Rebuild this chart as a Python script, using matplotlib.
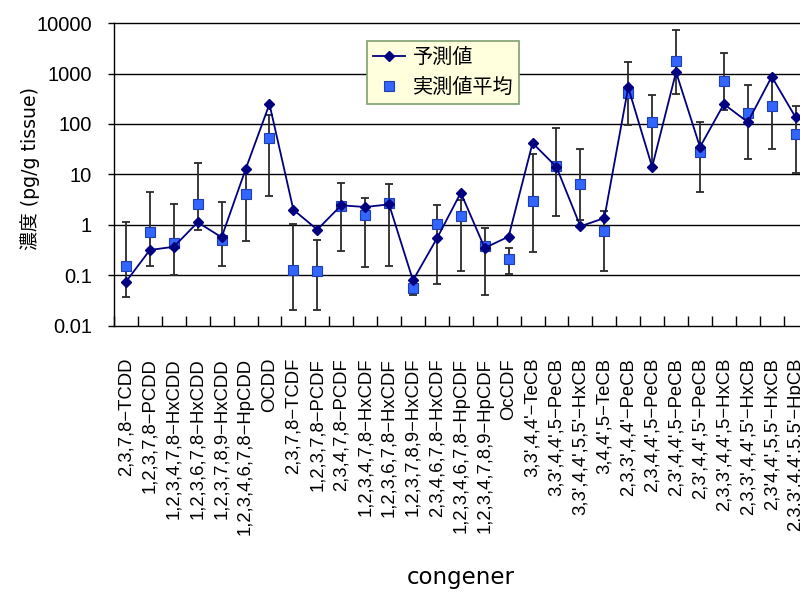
import matplotlib
matplotlib.use("Agg")
import matplotlib.pyplot as plt
import numpy as np

congeners = [
    "2,3,7,8−TCDD", "1,2,3,7,8−PCDD", "1,2,3,4,7,8−HxCDD", "1,2,3,6,7,8−HxCDD",
    "1,2,3,7,8,9−HxCDD", "1,2,3,4,6,7,8−HpCDD", "OCDD",
    "2,3,7,8−TCDF", "1,2,3,7,8−PCDF", "2,3,4,7,8−PCDF", "1,2,3,4,7,8−HxCDF",
    "1,2,3,6,7,8−HxCDF", "1,2,3,7,8,9−HxCDF", "2,3,4,6,7,8−HxCDF",
    "1,2,3,4,6,7,8−HpCDF", "1,2,3,4,7,8,9−HpCDF", "OcCDF",
    "3,3',4,4'−TeCB", "3,3',4,4',5−PeCB", "3,3',4,4',5,5'−HxCB", "3,4,4',5−TeCB",
    "2,3,3',4,4'−PeCB", "2,3,4,4',5−PeCB", "2,3',4,4',5−PeCB", "2,3',4,4',5'−PeCB",
    "2,3,3',4,4',5−HxCB", "2,3,3',4,4',5'−HxCB", "2,3'4,4',5,5'−HxCB",
    "2,3,3',4,4',5,5'−HpCB",
]

predicted = [0.075, 0.32, 0.37, 1.13, 0.57, 12.6, 248,
             2.0, 0.81, 2.45, 2.27, 2.56, 0.080, 0.54,
             4.36, 0.35, 0.59,
             42, 14.1, 0.94, 1.37,
             531, 14.1, 1070, 35,
             248, 109, 865, 135]

measured_mean = [0.156, 0.71, 0.43, 2.6, 0.50, 4.17, 53.5,
                 0.126, 0.121, 2.4, 1.57, 2.76, 0.0565, 1.06,
                 1.51, 0.39, 0.215,
                 3.03, 14.7, 6.5, 0.75,
                 410, 112, 1766, 27.9,
                 710, 165, 230, 63]

measured_low = [0.0375, 0.152, 0.104, 0.81, 0.152, 0.475, 3.69,
                0.0204, 0.0204, 0.305, 0.145, 0.152, 0.042, 0.068,
                0.121, 0.0417, 0.105,
                0.292, 1.53, 1.24, 0.121,
                94, 14, 392, 4.43,
                192, 20.6, 32, 10.9]

measured_high = [1.13, 4.43, 2.56, 16.6, 2.85, 12.0, 153,
                 1.06, 0.51, 6.8, 3.47, 6.5, 0.078, 2.52,
                 3.17, 0.86, 0.355,
                 25.8, 84.5, 32, 1.89,
                 1715, 380, 7140, 108,
                 2540, 582, 860, 224]

y_ticks = [0.01, 0.1, 1, 10, 100, 1000, 10000]
y_tick_labels = ["0.01", "0.1", "1", "10", "100", "1000", "10000"]

x = np.arange(len(congeners))
mean = np.array(measured_mean)
yerr = np.vstack([mean - np.array(measured_low), np.array(measured_high) - mean])

fig = plt.figure(figsize=(8.0, 5.93), dpi=100)
ax = fig.add_axes([0.1425, 0.4503, 0.867, 0.5109])

ax.set_yscale("log")
ax.set_ylim(0.01, 10000)
ax.set_xlim(-0.5, len(congeners) - 0.5)

for v in [0.1, 1, 10, 100, 1000]:
    ax.axhline(v, color="black", lw=1.0, zorder=1)

ax.errorbar(x, mean, yerr=yerr, fmt="none", ecolor="#2a2a2a", elinewidth=1.3,
            capsize=3.2, capthick=1.3, zorder=2)
ax.plot(x, predicted, color="#000080", lw=1.3, marker="D", markersize=5.2,
        markerfacecolor="#000080", markeredgecolor="#000080", zorder=4,
        label="予測値")
ax.plot(x, measured_mean, linestyle="none", marker="s", markersize=6.6,
        markerfacecolor="#3366FF", markeredgecolor="#1F3FAF", markeredgewidth=0.8,
        zorder=3, label="実測値平均")

ax.set_yticks(y_ticks)
ax.set_yticklabels(y_tick_labels, family=["Liberation Sans"], fontsize=14.5)
ax.yaxis.set_minor_locator(matplotlib.ticker.NullLocator())
ax.tick_params(axis="y", direction="out", length=4, width=1, pad=12)

ax.set_xticks(np.arange(len(congeners) + 1) - 0.5)
ax.set_xticklabels([])
ax.tick_params(axis="x", which="major", direction="in", length=7, width=1)
ax.set_xticks(x, minor=True)
ax.set_xticklabels(congeners, minor=True, rotation=90, ha="center", va="top",
                   family=["Liberation Sans", "DejaVu Sans"], fontsize=13.3)
ax.tick_params(axis="x", which="minor", length=0, pad=23)

for side in ["left", "bottom", "top"]:
    ax.spines[side].set_color("black")
    ax.spines[side].set_linewidth(1.0)
ax.spines["right"].set_visible(False)

ax.set_ylabel("濃度 (pg/g tissue)", family=["DejaVu Sans", "Noto Sans CJK JP"],
              fontsize=13.6)
ax.yaxis.set_label_coords(-0.106, 0.52)
ax.set_xlabel("congener", family=["DejaVu Sans"], fontsize=16.5, labelpad=22)

leg = ax.legend(loc="upper left", bbox_to_anchor=(0.365, 0.94),
                prop={"family": ["Noto Sans CJK JP"], "size": 14.5},
                frameon=True, fancybox=False, borderpad=0.3,
                handlelength=1.6, handletextpad=0.35, labelspacing=0.42,
                borderaxespad=0)
leg.get_frame().set_facecolor("#FFFFDD")
leg.get_frame().set_edgecolor("#7F9F6F")
leg.get_frame().set_linewidth(1.2)
leg.get_frame().set_alpha(1.0)

fig.savefig("out.png", dpi=100)
